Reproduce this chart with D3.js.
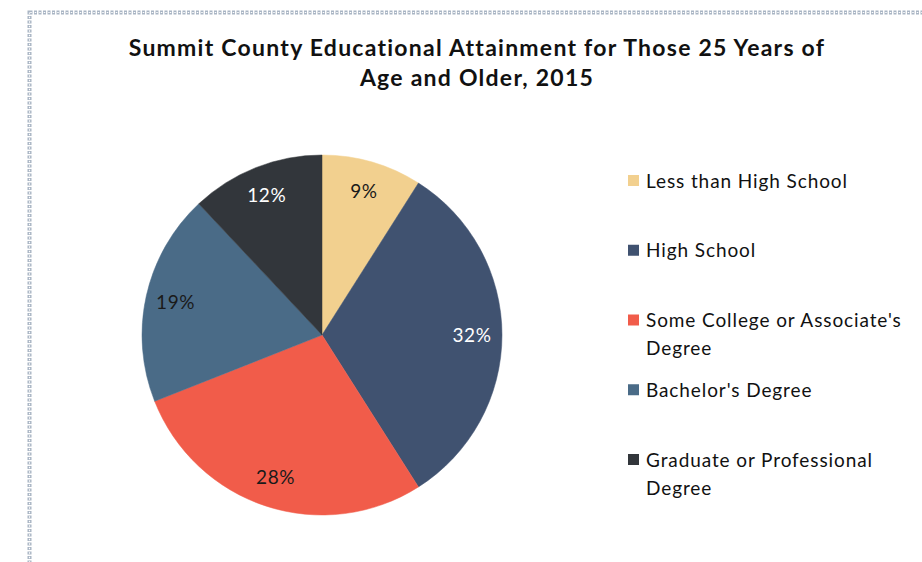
<!DOCTYPE html>
<html><head><meta charset="utf-8">
<script src="https://cdn.jsdelivr.net/npm/d3@7"></script>
<style>body{margin:0;background:#fff;} svg{display:block;}</style>
</head><body>
<svg id="chart" width="922" height="562"></svg>
<script>
const categories = ["Less than High School","High School","Some College or Associate's Degree","Bachelor's Degree","Graduate or Professional Degree"];
const legendLines = [["Less than High School"],["High School"],["Some College or Associate's","Degree"],["Bachelor's Degree"],["Graduate or Professional","Degree"]];
const values = [9, 32, 28, 19, 12];
const colors = ["#F2D08F","#405270","#F15C4A","#4A6B87","#32363B"];
const labelColors = ["#1a1a1a","#ffffff","#1a1a1a","#1a1a1a","#ffffff"];
const titleLines = ["Summit County Educational Attainment for Those 25 Years of","Age and Older, 2015"];

const svg = d3.select("#chart");
const font = "Lato, 'Open Sans', sans-serif";

// border
svg.append("rect").attr("x",29.5).attr("y",12.5).attr("width",922).attr("height",600)
  .attr("fill","none").attr("stroke","#A9B5C4").attr("stroke-width",4).attr("stroke-dasharray","3 1.5");
svg.append("rect").attr("x",29.5).attr("y",12.5).attr("width",922).attr("height",600)
  .attr("fill","none").attr("stroke","#ffffff").attr("stroke-width",1.2).attr("stroke-dasharray","1.5 3").attr("stroke-dashoffset",-0.75);

// title
svg.append("g").selectAll("text").data(titleLines).join("text")
  .attr("x",477).attr("y",(d,i)=>56+i*30)
  .attr("text-anchor","middle").attr("font-family",font).attr("font-weight","bold")
  .attr("font-size",23).attr("letter-spacing",1.25).attr("fill","#111").text(d=>d);

// pie
const cx = 322, cy = 335, R = 180;
const pie = d3.pie().sort(null).value(d=>d);
const arcs = pie(values);
const arc = d3.arc().innerRadius(0).outerRadius(R);
const labelArc = d3.arc().innerRadius(150).outerRadius(150);
const g = svg.append("g").attr("transform",`translate(${cx},${cy})`);
g.selectAll("path").data(arcs).join("path")
  .attr("d",arc).attr("fill",(d,i)=>colors[i]).attr("stroke",(d,i)=>colors[i]).attr("stroke-width",0.5);
g.selectAll("text").data(arcs).join("text")
  .attr("transform",d=>`translate(${labelArc.centroid(d)})`)
  .attr("text-anchor","middle").attr("dy","0.35em")
  .attr("font-family",font).attr("font-size",19).attr("letter-spacing",0.6)
  .attr("fill",(d,i)=>labelColors[i]).text(d=>d.data+"%");

// legend
const legendY = d3.scalePoint().domain(d3.range(categories.length)).range([181,460]);
const lg = svg.append("g");
const items = lg.selectAll("g").data(legendLines).join("g")
  .attr("transform",(d,i)=>`translate(628,${legendY(i)})`);
items.append("rect").attr("x",0).attr("y",-6).attr("width",11).attr("height",11).attr("fill",(d,i)=>colors[i]);
items.each(function(lines){
  d3.select(this).selectAll("text").data(lines).join("text")
    .attr("x",18).attr("y",(d,j)=>j*28).attr("dy","0.35em")
    .attr("font-family",font).attr("font-size",19).attr("letter-spacing",0.9).attr("fill","#111").text(d=>d);
});
</script>
</body></html>
